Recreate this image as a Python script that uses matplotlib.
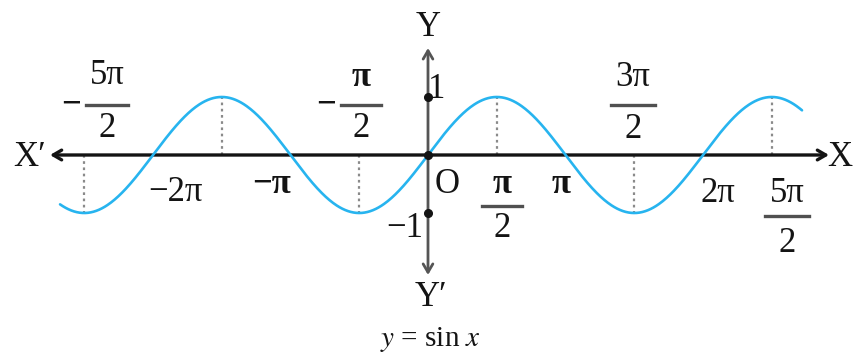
import numpy as np
import matplotlib
matplotlib.use("Agg")
import matplotlib.pyplot as plt

# ---- data ----
curve_start_pi = -2.676      # curve start (multiples of pi)
curve_end_pi = 2.72          # curve end (multiples of pi)
guide_pi = [-2.5, -1.5, -0.5, 0.5, 1.5, 2.5]   # dotted guide positions (multiples of pi)
ydots = [1, 0, -1]
simple_labels = ["\u22122\u03c0", "\u2212\u03c0", "\u03c0", "2\u03c0"]
simple_bold = [False, True, True, False]
fraction_labels = [("\u2212", "5\u03c0", "2"), ("\u2212", "\u03c0", "2"),
                   ("", "3\u03c0", "2"), ("", "\u03c0", "2"), ("", "5\u03c0", "2")]
fraction_bold = [False, True, False, True, False]

W, H = 854, 358
fig = plt.figure(figsize=(W / 100, H / 100), dpi=100)
ax = fig.add_axes([0, 0, 1, 1])
ox, oy = 428, 155
sx = 137.5 / np.pi   # px per radian
sy = 58.0            # px per unit
ax.set_xlim(-ox / sx, (W - ox) / sx)
ax.set_ylim(-(H - oy) / sy, oy / sy)
ax.axis("off")

def px(xp, yp):
    return (xp - ox) / sx, (oy - yp) / sy

FONT = "Liberation Serif"
FS = 25
BLUE = "#27b4ef"
INK = "#141414"

# axes with arrows
x0, _ = px(50, 0); x1, _ = px(829, 0)
ax.annotate("", xy=(x0, 0), xytext=(x1, 0),
            arrowprops=dict(arrowstyle="<->,head_length=0.6,head_width=0.35", lw=2.4, color=INK,
                            shrinkA=0, shrinkB=0))
_, y0 = px(0, 48); _, y1 = px(0, 275)
ax.annotate("", xy=(0, y0), xytext=(0, y1),
            arrowprops=dict(arrowstyle="<->,head_length=0.6,head_width=0.35", lw=2.0, color="#555555",
                            shrinkA=0, shrinkB=0))

# sine curve
xs = np.linspace(curve_start_pi * np.pi, curve_end_pi * np.pi, 800)
ax.plot(xs, np.sin(xs), color=BLUE, lw=1.9, zorder=3, solid_capstyle="round")

# dotted guides
for g in guide_pi:
    xg = g * np.pi
    ax.plot([xg, xg], [0, np.sin(xg)], color="#8a8a8a", lw=1.6,
            linestyle=(0, (1.2, 1.6)), zorder=2)

# dots on y axis
ax.plot([0] * len(ydots), ydots, "o", color=INK, ms=5.5, zorder=4)

def txt(xp, yp, s, fs=FS, **kw):
    x, y = px(xp, yp)
    ax.text(x, y, s, fontsize=fs, family=FONT, ha="center", va="center", color=INK, **kw)

def frac(cx, ynum, ybar, yden, sign, num, den, bold=False, half=21, sign_x=None):
    if sign:
        txt(sign_x, ybar, sign, fontweight="bold")
    txt(cx, ynum, num, fontweight="bold" if bold else "normal")
    a, yb = px(cx - half, ybar); b, _ = px(cx + half, ybar)
    ax.plot([a, b], [yb, yb], color="#505050", lw=2.4)
    txt(cx, yden, den)

frac(107, 76, 105, 128, *fraction_labels[0], bold=fraction_bold[0], sign_x=71)
frac(361, 78, 105, 128, *fraction_labels[1], bold=fraction_bold[1], half=20, sign_x=326)
frac(633, 77, 105, 129, *fraction_labels[2], bold=fraction_bold[2], half=22)
frac(502, 184, 206, 228, *fraction_labels[3], bold=fraction_bold[3], half=20)
frac(787, 193, 216, 243, *fraction_labels[4], bold=fraction_bold[4], half=22)

for (xp, yp), s, b in zip([(175, 192), (272, 184), (561, 184), (718, 193)], simple_labels, simple_bold):
    txt(xp, yp, s, fontweight="bold" if b else "normal")

txt(447, 184, "O")
txt(437, 90, "1")
txt(405, 228, "\u22121")
txt(30, 157, "X\u2032")
txt(840, 157, "X")
txt(428, 28, "Y")
txt(431, 297, "Y\u2032")
x, y = px(430, 340)
ax.text(x, y, "$\\mathit{y}$ = sin $\\mathit{x}$", fontsize=21, family=FONT, ha="center", va="center",
        color=INK, math_fontfamily="stix")

fig.savefig("out.png", dpi=100)
